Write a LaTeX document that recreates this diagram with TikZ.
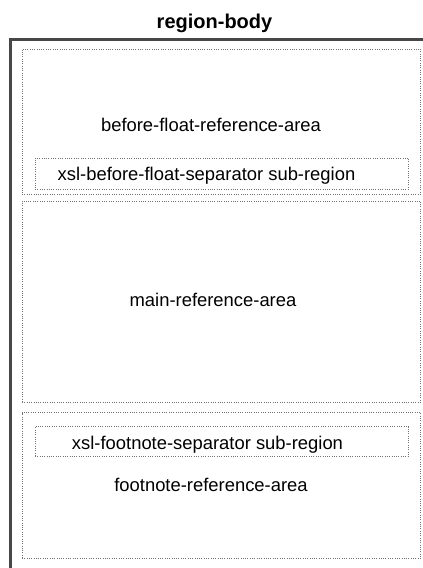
\documentclass[tikz,border=0pt]{standalone}
\usepackage{fontspec}
\setmainfont{Liberation Sans}
\begin{document}
\begin{tikzpicture}[x=1pt,y=-1pt,
  area/.style={draw=black!55, line width=0.8pt, dash pattern=on 1pt off 1.3pt, inner sep=0pt, outer sep=0pt, anchor=north west},
  lbl/.style={font=\fontsize{18.4}{22}\selectfont, anchor=base, inner sep=0pt},
  ttl/.style={font=\fontsize{20}{24}\selectfont\bfseries, anchor=base, inner sep=0pt},
]
\useasboundingbox (0,0) rectangle (423,568);
\begin{scope}
\clip (0,0) rectangle (423,568);
\node[draw=black!72, line width=2.5pt, anchor=north west, minimum width=460pt, minimum height=560pt, inner sep=0pt, outer sep=0pt] (body) at (10.5,39.7) {};
\end{scope}
\node[ttl] (title) at (214.5,28.5) {region-body};
\node[area, minimum width=398.7pt, minimum height=145pt] (bfarea) at (22,49) {};
\node[area, minimum width=373.5pt, minimum height=31pt] (bfsep) at (35,158) {};
\node[area, minimum width=398.7pt, minimum height=201pt] (mainarea) at (22,201) {};
\node[area, minimum width=398.7pt, minimum height=146pt] (fnarea) at (22,412.5) {};
\node[area, minimum width=373.3pt, minimum height=30pt] (fnsep) at (35,426.5) {};
\node[lbl] (bflbl) at (211,131) {before-float-reference-area};
\node[lbl] (bfseplbl) at (206.5,180) {xsl-before-float-separator sub-region};
\node[lbl] (mainlbl) at (213,306) {main-reference-area};
\node[lbl] (fnseplbl) at (207.5,449.5) {xsl-footnote-separator sub-region};
\node[lbl] (fnlbl) at (211,491) {footnote-reference-area};
\end{tikzpicture}
\end{document}
